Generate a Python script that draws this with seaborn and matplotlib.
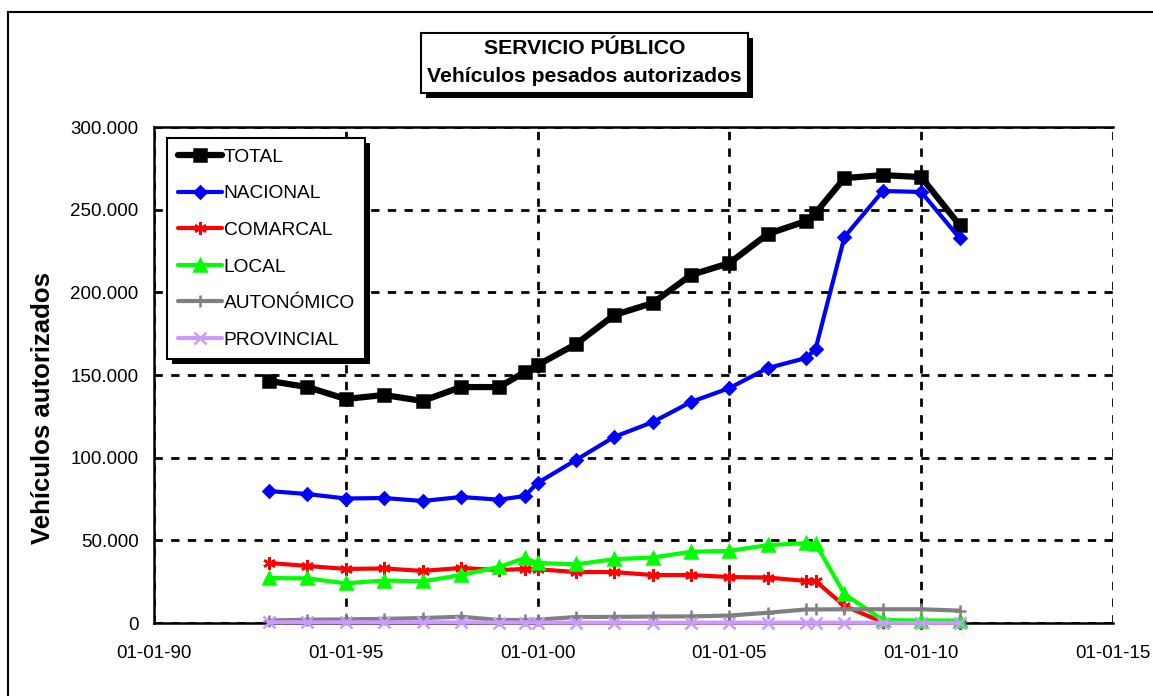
import matplotlib
matplotlib.use("Agg")
import matplotlib.pyplot as plt
import matplotlib.dates as mdates
import matplotlib.patheffects as pe
from matplotlib.patches import Rectangle
from matplotlib.ticker import FuncFormatter, MultipleLocator
import pandas as pd
import seaborn as sns

# fechas de cada observación (dd-mm-aa en el eje)
fechas = ["1993-01-01", "1994-01-01", "1995-01-01", "1996-01-01", "1997-01-01",
          "1998-01-01", "1999-01-01", "1999-09-01", "2000-01-01", "2001-01-01",
          "2002-01-01", "2003-01-01", "2004-01-01", "2005-01-01", "2006-01-01",
          "2007-01-01", "2007-04-01", "2008-01-01", "2009-01-01", "2010-01-01",
          "2011-01-01"]

total = [146400, 142700, 135500, 137900, 134300, 142700, 142700, 151800, 156000, 168700,
         186300, 193500, 210500, 217700, 235300, 243100, 248000, 269100, 270900, 269700,
         240700]
nacional = [79800, 78000, 75300, 75600, 73800, 76200, 74600, 76800, 84700, 98600,
            112600, 121500, 133700, 142100, 154200, 160300, 165700, 233500, 261300, 260700,
            232800]
comarcal = [36300, 34500, 32700, 33000, 31500, 33300, 32000, 32700, 32500, 30800,
            30800, 29000, 29000, 27800, 27500, 25400, 25400, 10300, 500, 300,
            300]
local = [27200, 27000, 24000, 25700, 25200, 29000, 33900, 39300, 36300, 35500,
         38600, 39600, 43100, 43600, 47100, 48300, 48000, 17500, 1800, 1500,
         1500]
autonomico = [1500, 2000, 2200, 2500, 3000, 3800, 1800, 1800, 2000, 3600,
              3700, 3900, 4000, 4500, 6200, 8200, 8200, 8300, 8300, 8300,
              7500]
provincial = [400, 400, 400, 400, 400, 400, 300, 300, 300, 200,
              200, 200, 200, 200, 200, 200, 200, 200, 100, 100,
              100]

series = [
    ("TOTAL", total, "black", "s", 4.5, 8),
    ("NACIONAL", nacional, "#0000FF", "D", 3.0, 6),
    ("COMARCAL", comarcal, "#FF0000", (6, 2, 0), 3.0, 9),
    ("LOCAL", local, "#00FF00", "^", 3.0, 8),
    ("AUTONÓMICO", autonomico, "#808080", "+", 3.0, 9),
    ("PROVINCIAL", provincial, "#CC99FF", "x", 3.0, 8),
]

sns.set_style("white")
plt.rcParams["font.family"] = ["Liberation Sans", "DejaVu Sans"]
plt.rcParams["text.color"] = "black"
plt.rcParams["axes.labelcolor"] = "black"
plt.rcParams["xtick.color"] = "black"
plt.rcParams["ytick.color"] = "black"

fig = plt.figure(figsize=(11.53, 6.96), dpi=100)
ax = fig.add_axes([154 / 1153, 1 - 623 / 696, 959 / 1153, 496 / 696])

x = pd.to_datetime(fechas)
for name, vals, color, marker, lw, ms in series:
    sns.lineplot(x=x, y=vals, ax=ax, color=color, marker=marker, linewidth=lw,
                 markersize=ms, markeredgecolor=color, markeredgewidth=1.8,
                 label=name, clip_on=False, zorder=3)

ax.set_xlim(pd.Timestamp("1990-01-01"), pd.Timestamp("2015-01-01"))
ax.set_ylim(0, 300000)
ax.xaxis.set_major_locator(mdates.YearLocator(5, month=1, day=1))
ax.xaxis.set_minor_locator(mdates.YearLocator(1, month=1, day=1))
ax.xaxis.set_major_formatter(mdates.DateFormatter("%d-%m-%y"))
ax.yaxis.set_major_locator(MultipleLocator(50000))
ax.yaxis.set_major_formatter(FuncFormatter(lambda v, p: f"{int(v):,}".replace(",", ".")))

ax.grid(True, which="major", color="black", linestyle=(0, (3, 3)), linewidth=2)
ax.tick_params(axis="both", which="both", direction="out", color="black",
               width=1.5, labelsize=13.5)
ax.tick_params(axis="x", which="both", length=5, pad=11)
ax.tick_params(axis="y", which="major", length=6, pad=5)
ax.tick_params(axis="x", which="minor", length=5)
for side in ["left", "bottom", "top"]:
    ax.spines[side].set_color("black")
    ax.spines[side].set_linewidth(1.8)
ax.spines["right"].set_visible(False)

ax.set_xlabel("")
ax.set_ylabel("Vehículos autorizados", fontsize=18.5, fontweight="bold")
ax.yaxis.set_label_coords(-0.103, 0.433)

shadow = [pe.SimplePatchShadow(offset=(3.5, -3.5), shadow_rgbFace="black", alpha=1),
          pe.Normal()]

leg = ax.legend(loc="upper left", bbox_to_anchor=(0.0136, 0.978), borderaxespad=0,
                fontsize=13.8, handlelength=2.3, handletextpad=0.1,
                labelspacing=1.0, borderpad=0.55, fancybox=False, framealpha=1)
leg.get_frame().set_edgecolor("black")
leg.get_frame().set_linewidth(1.5)
leg.get_frame().set_path_effects(shadow)

t = fig.text(0.507, 0.9095, "SERVICIO PÚBLICO\nVehículos pesados autorizados",
             ha="center", va="center", fontsize=15.2, fontweight="bold",
             linespacing=1.6,
             bbox=dict(boxstyle="square,pad=0.3", facecolor="white",
                       edgecolor="black", linewidth=1.5))
t.get_bbox_patch().set_path_effects(shadow)

# marco exterior del gráfico
fig.add_artist(Rectangle((8 / 1153, -0.1), 1.2, 1.1 - 12 / 696, transform=fig.transFigure,
                         fill=False, edgecolor="black", linewidth=1.5))

fig.savefig("out.png", dpi=100)
plt.close(fig)
